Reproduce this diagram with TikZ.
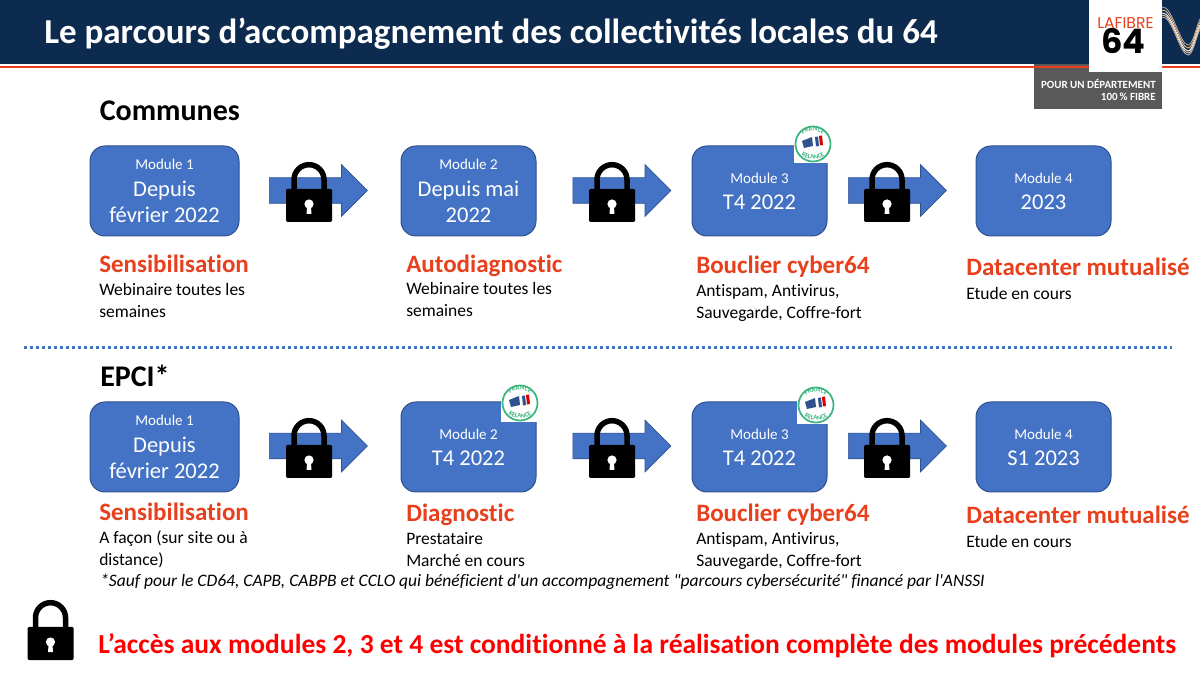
\documentclass[tikz,border=0pt]{standalone}
\usepackage{fontspec}
\setmainfont{Carlito}[Ligatures={TeXOff,CommonOff}]
\newfontfamily\logofont{Poppins}
\usepackage{tikz}
\usetikzlibrary{shapes.arrows,decorations.text}

\definecolor{navy}{HTML}{0C2B4E}
\definecolor{modblue}{HTML}{4472C4}
\definecolor{modline}{HTML}{2F528F}
\definecolor{rust}{HTML}{E8401C}
\definecolor{relgreen}{HTML}{3DB57F}

\tikzset{
    lock/.pic={
        \fill[black, rounded corners=1pt] (-23,0) -- (23,0) -- (23,33) -- (-23,33) -- cycle;
        \draw[black, line width=4.4pt] (-15,1) -- (-15,-9.3) arc (180:360:15) -- (15,1);
        \fill[white] (0,15) circle (4.6);
        \fill[white] (-2,16) -- (2,16) -- (2.4,25) -- (-2.4,25) -- cycle;
    },
    relance/.pic={
        \fill[white] (-22,-20) rectangle (14,19);
        \draw[relgreen, line width=1.4pt, fill=white] (-3,0) circle (17.5);
        \path[postaction={decorate}, decoration={text along path, text align=center,
            text={|\fontsize{5.2}{6}\selectfont\bfseries\color{relgreen}|FRANCE}}]
            (-15.5,-3) arc (180:360:12.5 and 10);
        \path[postaction={decorate}, decoration={text along path, text align=center,
            text={|\fontsize{5.2}{6}\selectfont\bfseries\color{relgreen}|RELANCE}}]
            (-18,6) arc (180:0:15 and 9);
        \fill[modline] (-14,-3) -- (-4,-7) -- (-3,2) -- (-12,4) -- cycle;
        \fill[modline] (-1,-7) -- (2,-7.5) -- (3,2) -- (0,2.5) -- cycle;
        \fill[red!85!black] (3,-8) -- (6,-8.5) -- (7,1) -- (4,1.5) -- cycle;
    }
}

\begin{document}
\begin{tikzpicture}[
    x=0.8pt, y=-0.8pt,
    modbox/.style={draw=modline, fill=modblue, rounded corners=12pt, line width=0.8pt, text=white,
        minimum height=72pt, align=center, inner sep=0pt, font=\fontsize{18}{21}\selectfont},
    wide/.style={minimum width=119.2pt},
    narrow/.style={minimum width=108pt},
    blockarr/.style={single arrow, anchor=tail, fill=modblue, draw=modline, line width=0.5pt, minimum height=78.4pt,
        minimum width=40.8pt, single arrow head extend=10.4pt, single arrow head indent=0pt,
        inner xsep=0pt, inner ysep=10pt},
    headtxt/.style={anchor=base west, inner sep=0pt, text=rust, font=\fontsize{20}{24}\selectfont\bfseries},
    bodytxt/.style={anchor=north west, inner sep=0pt, align=left, font=\fontsize{14}{17.6}\selectfont},
    grouptxt/.style={anchor=base west, inner sep=0pt, font=\fontsize{24}{28}\selectfont\bfseries}
]
\newcommand{\modsize}{\fontsize{12}{19}\selectfont}
\useasboundingbox (0,0) rectangle (1200,675);

% bandeau
\fill[navy] (0,0) rectangle (1200,64);
\node[fill=black!65, minimum width=102.4pt, minimum height=36pt, inner sep=0pt] (logobar) at (1098,86.5) {};
\fill[rust] (0,66) rectangle (1200,68.5);
\node[anchor=base west, inner sep=0pt, text=white, font=\fontsize{28}{32}\selectfont\bfseries] (title) at (44,43.5)
    {Le parcours d’accompagnement des collectivités locales du 64};

% logo
\foreach \dy/\col in {-3/gray!70, 0/orange!50, 3/white, 5/orange!40, 7/gray!60}
    \draw[\col, line width=0.7pt] (1162,{10+\dy}) .. controls (1172,{8+\dy}) and (1180,{48+\dy}) .. (1188,{48+\dy}) .. controls (1193,{48+\dy}) and (1196,{30+\dy}) .. (1200,{22+\dy});
\node[anchor=east, inner sep=0pt, align=right, text=white, font=\fontsize{8.8}{10}\selectfont\bfseries] (slogan) at (1156,90)
    {POUR UN DÉPARTEMENT\\100\,\% FIBRE};
\node[fill=white, minimum width=58.4pt, minimum height=57.6pt, inner sep=0pt] (logobox) at (1125.5,36) {};
\node[inner sep=0pt, text=rust, font=\logofont\fontsize{12.5}{13}\selectfont] (logola) at (1125.5,23.5) {LAFIBRE};
\node[inner sep=0pt, font=\logofont\fontsize{27}{27}\selectfont\bfseries] (logonum) at (1123.5,41.5) {64};

% Communes
\node[grouptxt] (communes) at (99.5,121) {Communes};
\node[modbox, wide] (c1) at (164.5,191) {{\modsize Module 1}\\Depuis\\février 2022};
\node[modbox, narrow] (c2) at (468.5,191) {{\modsize Module 2}\\Depuis mai\\2022};
\node[modbox, narrow] (c3) at (759.5,191) {{\modsize Module 3}\\T4 2022};
\node[modbox, narrow] (c4) at (1043.5,191) {{\modsize Module 4}\\2023};
\pic at (816,144) {relance};

\node[blockarr] (ca1) at (269,190.5) {};
\node[blockarr] (ca2) at (572.5,190.5) {};
\node[blockarr] (ca3) at (848,190.5) {};
\pic at (309,189) {lock};
\pic at (612,189) {lock};
\pic at (887,189) {lock};

\node[headtxt] (ch1) at (99,273) {Sensibilisation};
\node[headtxt] (ch2) at (406,272.5) {Autodiagnostic};
\node[headtxt] (ch3) at (696,273.5) {Bouclier cyber64};
\node[headtxt] (ch4) at (966,275.5) {Datacenter mutualisé};
\node[bodytxt] (cb1) at (99,283) {Webinaire toutes les\\semaines};
\node[bodytxt] (cb2) at (406,282) {Webinaire toutes les\\semaines};
\node[bodytxt] (cb3) at (696,284.5) {Antispam, Antivirus,\\Sauvegarde, Coffre-fort};
\node[bodytxt] (cb4) at (966,287) {Etude en cours};

% separation
\coordinate (sepl) at (24,348);
\coordinate (sepr) at (1172,348);
\draw[modblue, line width=2.4pt, dash pattern=on 2.4pt off 2.4pt] (sepl) -- (sepr);

% EPCI
\node[grouptxt] (epci) at (100,387) {EPCI*};
\node[modbox, wide] (e1) at (164.5,447) {{\modsize Module 1}\\Depuis\\février 2022};
\node[modbox, narrow] (e2) at (468.5,447) {{\modsize Module 2}\\T4 2022};
\node[modbox, narrow] (e3) at (759.5,447) {{\modsize Module 3}\\T4 2022};
\node[modbox, narrow] (e4) at (1043.5,447) {{\modsize Module 4}\\S1 2023};
\pic at (523,403) {relance};
\pic at (819,405) {relance};

\node[blockarr] (ea1) at (269,446) {};
\node[blockarr] (ea2) at (572.5,446) {};
\node[blockarr] (ea3) at (848,446) {};
\pic at (309,445) {lock};
\pic at (612,445) {lock};
\pic at (887,445) {lock};

\node[headtxt] (eh1) at (99,520.5) {Sensibilisation};
\node[headtxt] (eh2) at (406,521.5) {Diagnostic};
\node[headtxt] (eh3) at (696,521.5) {Bouclier cyber64};
\node[headtxt] (eh4) at (966,523.5) {Datacenter mutualisé};
\node[bodytxt] (eb1) at (99,530.5) {A façon (sur site ou à\\distance)};
\node[bodytxt] (eb2) at (406,532) {Prestataire\\Marché en cours};
\node[bodytxt] (eb3) at (696,532.5) {Antispam, Antivirus,\\Sauvegarde, Coffre-fort};
\node[bodytxt] (eb4) at (966,535) {Etude en cours};
\node[anchor=base west, inner sep=0pt, font=\fontsize{14}{16}\selectfont\itshape] (note) at (100,587)
    {*Sauf pour le CD64, CAPB, CABPB et CCLO qui bénéficient d'un accompagnement "parcours cybersécurité" financé par l'ANSSI};

% condition
\pic at (50.5,627) {lock};
\node[anchor=base west, inner sep=0pt, text=red, font=\fontsize{22}{26}\selectfont\bfseries] (cond) at (98,653.5)
    {L’accès aux modules 2, 3 et 4 est conditionné à la réalisation complète des modules précédents};
\end{tikzpicture}
\end{document}
